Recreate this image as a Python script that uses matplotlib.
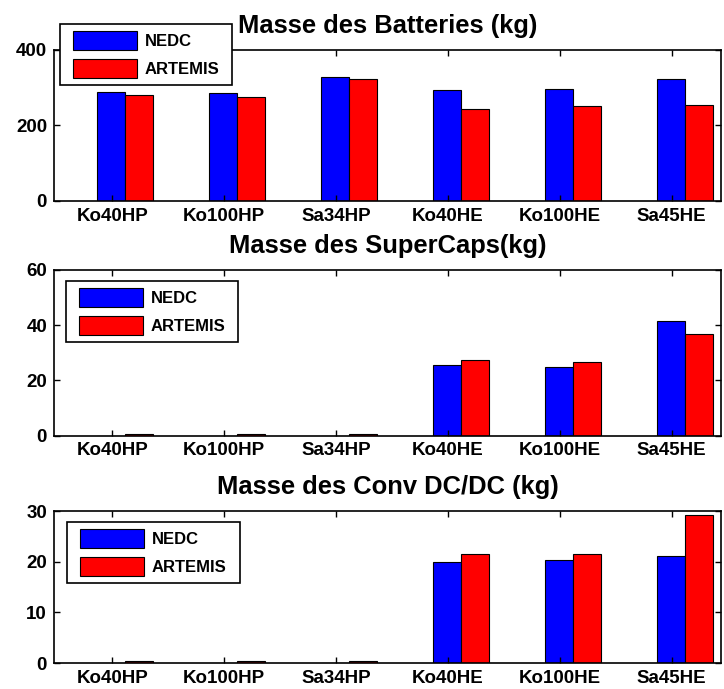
import matplotlib
matplotlib.use("Agg")
import matplotlib.pyplot as plt
import matplotlib.patches as mpatches
from matplotlib.legend_handler import HandlerPatch, update_from_first_child
from matplotlib.container import BarContainer
import numpy as np

plt.rcParams['font.family'] = ['Liberation Sans', 'DejaVu Sans']
plt.rcParams['font.weight'] = 'bold'

categories = ["Ko40HP", "Ko100HP", "Sa34HP", "Ko40HE", "Ko100HE", "Sa45HE"]
series_names = ["NEDC", "ARTEMIS"]

batt_nedc = [289, 285, 328, 294, 298, 323]
batt_artemis = [281, 276, 324, 243, 251, 255]

sc_nedc = [0, 0, 0, 25.7, 25.0, 41.6]
sc_artemis = [0.6, 0.6, 0.6, 27.4, 26.7, 36.9]

dc_nedc = [0, 0, 0, 19.9, 20.3, 21.2]
dc_artemis = [0.35, 0.35, 0.35, 21.5, 21.5, 29.2]

titles = ["Masse des Batteries (kg)", "Masse des SuperCaps(kg)", "Masse des Conv DC/DC (kg)"]
ylims = [(0, 400), (0, 60), (0, 30)]
yticks = [[0, 200, 400], [0, 20, 40, 60], [0, 10, 20, 30]]

W, H = 724, 689
fig = plt.figure(figsize=(W / 100, H / 100), dpi=100)

# panel boxes in pixels: (left, top, right, bottom)
boxes = [(54, 50, 721, 201), (54, 270, 721, 435.5), (54, 511, 721, 663)]
leg_boxes = [(60, 24, 232, 85), (66, 281, 238, 343), (67, 522, 240, 584)]

data = [(batt_nedc, batt_artemis), (sc_nedc, sc_artemis), (dc_nedc, dc_artemis)]

x = np.arange(1, len(categories) + 1)
w = 0.25
off = 0.115

SHIFT = 4.5  # points of extra left inset for legend handles


def make_rect(legend, orig_handle, xdescent, ydescent, width, height, fontsize):
    return mpatches.Rectangle((-xdescent + SHIFT, -ydescent), width - SHIFT, height)


handler = HandlerPatch(patch_func=make_rect, update_func=update_from_first_child)

for i in range(3):
    l, t, r, b = boxes[i]
    ax = fig.add_axes([l / W, 1 - b / H, (r - l) / W, (b - t) / H])
    nedc, art = data[i]
    ax.bar(x + off - w / 2, nedc, width=w, color='#0000ff', edgecolor='black', linewidth=0.8, label=series_names[0])
    ax.bar(x + off + w / 2, art, width=w, color='#ff0000', edgecolor='black', linewidth=0.8, label=series_names[1])
    ax.set_xlim(0.48, 6.44)
    ax.set_ylim(*ylims[i])
    ax.set_yticks(yticks[i])
    ax.set_xticks(x)
    ax.set_xticklabels(categories)
    ax.tick_params(direction='in', top=True, right=True, length=4, width=1,
                   labelsize=13.5)
    ax.tick_params(axis='x', pad=5)
    ax.tick_params(axis='y', pad=5)
    for lab in ax.get_xticklabels() + ax.get_yticklabels():
        lab.set_fontweight('bold')
    for s in ax.spines.values():
        s.set_linewidth(1.2)
    ax.set_title(titles[i], fontsize=18.4, fontweight='bold', pad=12)

    ll, lt, lr, lb = leg_boxes[i]
    leg = ax.legend(loc='upper left',
                    bbox_to_anchor=(ll / W, 1 - lb / H, (lr - ll) / W, (lb - lt) / H),
                    bbox_transform=fig.transFigure, mode='expand',
                    prop={'size': 12, 'weight': 'bold'},
                    handlelength=4.2, handleheight=1.38, labelspacing=0.54,
                    borderpad=0.42, handletextpad=0.48, borderaxespad=0,
                    fancybox=False, framealpha=1, edgecolor='black',
                    handler_map={BarContainer: handler})
    leg.get_frame().set_linewidth(1.2)

fig.savefig("out.png", dpi=100)
